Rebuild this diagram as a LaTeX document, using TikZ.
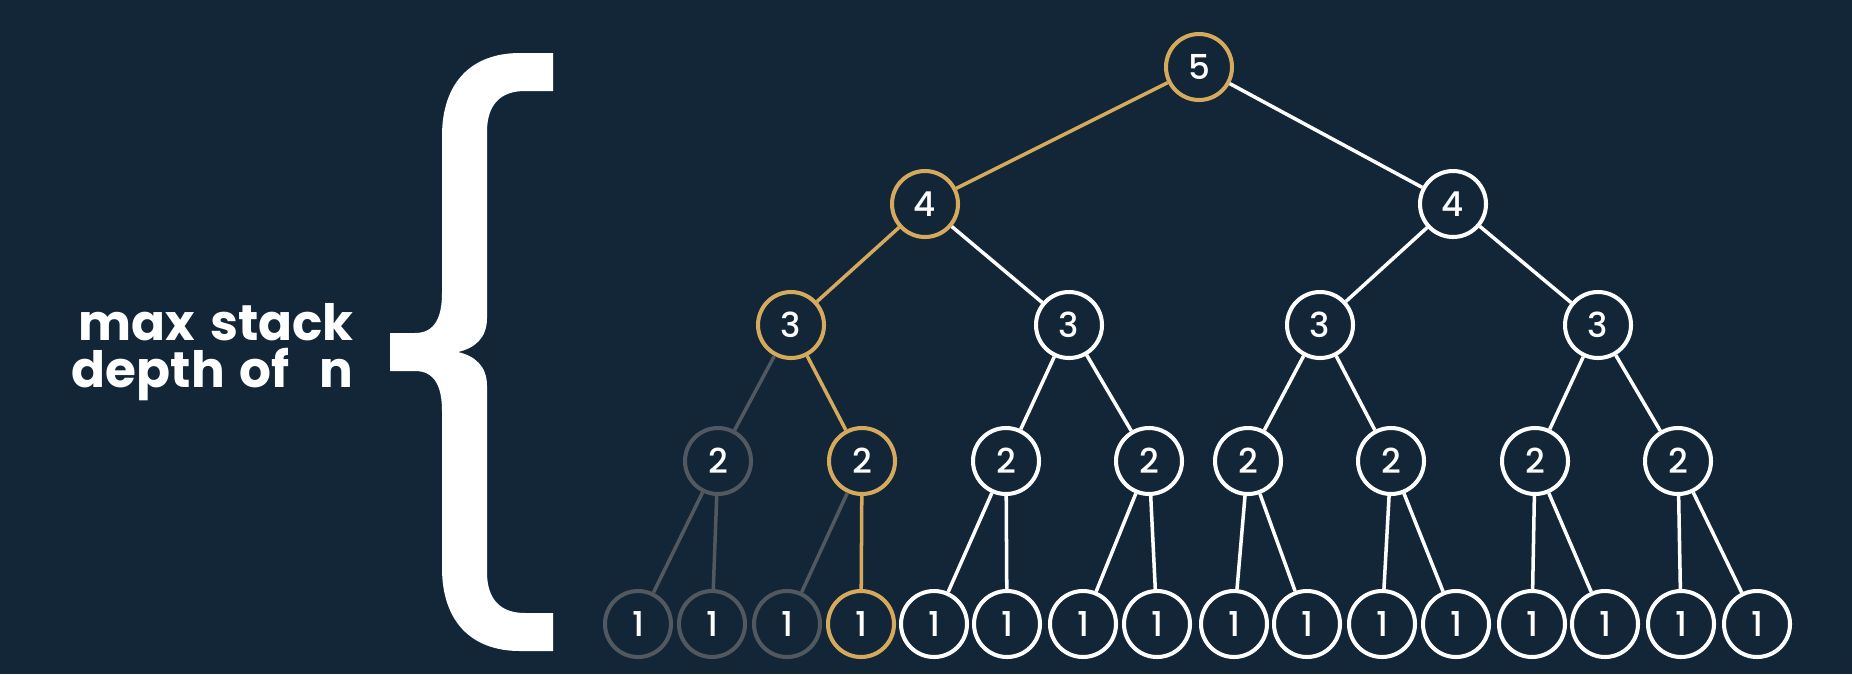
\documentclass[tikz,border=0pt]{standalone}
\usepackage{fontspec}
\setmainfont{Poppins}
\newfontfamily\digitfont{Poppins Medium}
\usepackage{xcolor}
\usepackage{tikz}
\usetikzlibrary{positioning}
\definecolor{tbg}{RGB}{19,38,55}
\definecolor{tgold}{RGB}{214,170,92}
\definecolor{tgray}{RGB}{82,88,96}

\begin{document}
\begin{tikzpicture}[
  x=0.02cm, y=-0.02cm,
  nd/.style={circle, draw=white, line width=2.3pt, fill=tbg, text=white,
             minimum size=1.32cm, inner sep=0pt,
             font=\digitfont\fontsize{19.5}{22}\selectfont},
  gnd/.style={nd, draw=tgray},
  ynd/.style={nd, draw=tgold},
  link/.style={draw=white, line width=2pt},
  glink/.style={link, draw=tgray},
  ylink/.style={link, draw=tgold},
  lbl/.style={text=white, align=right, inner sep=0pt,
              font=\bfseries\fontsize{28.5}{27}\selectfont},
]

% ── background ──
\fill[tbg] (0,0) rectangle (1852,674);

% ── brace + label ──
\fill[white] (553,53) -- (553,91) -- (525,91)
  .. controls (500,91) and (487,105) .. (487,132) -- (487,318)
  .. controls (487,338) and (475,348) .. (458,352)
  .. controls (475,356) and (487,366) .. (487,386) -- (487,572)
  .. controls (487,599) and (500,613) .. (525,613) -- (553,613)
  -- (553,651) -- (520,651)
  .. controls (470,651) and (442,620) .. (442,568) -- (442,411)
  .. controls (442,387) and (435,371) .. (415,371) -- (390,371)
  -- (390,333) -- (415,333)
  .. controls (435,333) and (442,317) .. (442,293) -- (442,136)
  .. controls (442,84) and (470,53) .. (520,53) -- cycle;
\node[lbl, anchor=east] (txt) at (354,352)
  {max\hspace{0.3em}stack\\depth\hspace{0.3em}of\hspace{0.6em}n};

% ── tree nodes ──
\node[ynd] (r) at (1199,67) {5};
\node[ynd] (a1) at (925,204) {4};
\node[nd]  (a2) at (1453,204) {4};
\node[ynd] (b1) at (791,325) {3};
\foreach \n/\x in {b2/1069, b3/1320, b4/1598}
  \node[nd] (\n) at (\x,325) {3};
\node[gnd] (c1) at (718,461) {2};
\node[ynd] (c2) at (862,461) {2};
\foreach \n/\x in {c3/1006, c4/1149, c5/1248, c6/1391, c7/1535, c8/1678}
  \node[nd] (\n) at (\x,461) {2};
\foreach \n/\x in {d1/638, d2/712, d3/787}
  \node[gnd] (\n) at (\x,624) {1};
\node[ynd] (d4) at (861,624) {1};
\foreach \n/\x in {d5/934, d6/1007, d7/1083, d8/1157, d9/1234, d10/1307,
                   d11/1382, d12/1456, d13/1532, d14/1605, d15/1681, d16/1757}
  \node[nd] (\n) at (\x,624) {1};

% ── links ──
\foreach \a/\b in {r/a1, a1/b1, b1/c2, c2/d4}
  \draw[ylink] (\a) -- (\b);
\foreach \a/\b in {b1/c1, c1/d1, c1/d2, c2/d3}
  \draw[glink] (\a) -- (\b);
\foreach \a/\b in {r/a2, a1/b2, a2/b3, a2/b4, b2/c3, b2/c4, b3/c5, b3/c6,
                   b4/c7, b4/c8, c3/d5, c3/d6, c4/d7, c4/d8, c5/d9, c5/d10,
                   c6/d11, c6/d12, c7/d13, c7/d14, c8/d15, c8/d16}
  \draw[link] (\a) -- (\b);

\end{tikzpicture}
\end{document}
